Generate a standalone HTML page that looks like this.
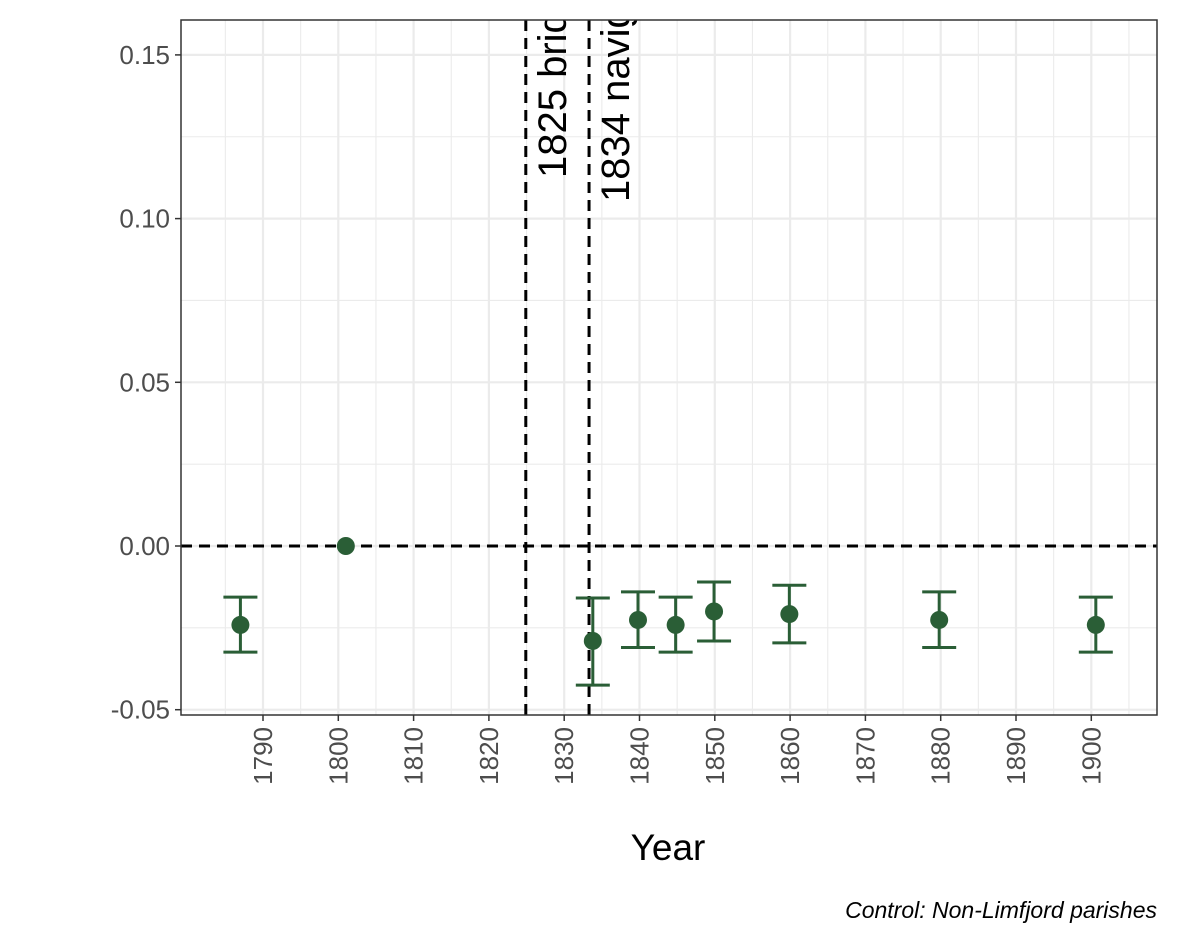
<!DOCTYPE html>
<html><head><meta charset="utf-8"><style>
body{margin:0;background:#fff;}
svg{display:block;font-family:"Liberation Sans",Arial,sans-serif;}
</style></head><body>
<svg id="chart" width="1181" height="944">
<defs><clipPath id="pc"><rect x="181" y="20" width="976" height="695"/></clipPath></defs>
<g id="grid"></g>
<g id="refs" clip-path="url(#pc)"></g>
<g id="marks"></g>
<rect x="181" y="20" width="976" height="695" fill="none" stroke="#333" stroke-width="1.5"/>
<g id="axes"></g>
<text x="668" y="860" font-size="37" text-anchor="middle" fill="#000">Year</text>
<text x="1157" y="918" font-size="23" font-style="italic" text-anchor="end" fill="#000">Control: Non-Limfjord parishes</text>
</svg>
<script>
const years=[1787,1801,1833.8,1839.8,1844.8,1849.9,1859.9,1879.8,1900.6];
const estimates=[-0.0241,0,-0.029,-0.0226,-0.0241,-0.020,-0.0208,-0.0226,-0.0241];
const lower=[-0.0324,0,-0.0425,-0.031,-0.0324,-0.029,-0.0296,-0.031,-0.0324];
const upper=[-0.0156,0,-0.0159,-0.014,-0.0156,-0.011,-0.012,-0.014,-0.0156];
const xTicks=[1790,1800,1810,1820,1830,1840,1850,1860,1870,1880,1890,1900];
const yTicks=[-0.05,0,0.05,0.10,0.15];
const yTickLabels=["-0.05","0.00","0.05","0.10","0.15"];
const events=[1824.9,1833.3];
const eventLabels=["1825 bridge","1834 navigation"];
const NS="http://www.w3.org/2000/svg";
const xs=v=>263+(v-1790)*7.53;
const ys=v=>546-v*3274;
function mk(p,t,a){const e=document.createElementNS(NS,t);for(const k in a)e.setAttribute(k,a[k]);p.appendChild(e);return e;}
const G=document.getElementById('grid'),R=document.getElementById('refs'),M=document.getElementById('marks'),A=document.getElementById('axes');
for(let i=0;i<yTicks.length;i++){
  let l=mk(G,'line',{x1:181,x2:1157,y1:ys(yTicks[i]),y2:ys(yTicks[i]),stroke:'#ebebeb','stroke-width':2.2});
  
  if(i<yTicks.length-1){let m=mk(G,'line',{x1:181,x2:1157,y1:ys((yTicks[i]+yTicks[i+1])/2),y2:ys((yTicks[i]+yTicks[i+1])/2),stroke:'#ebebeb','stroke-width':1.1});
  }
  let tk=mk(A,'line',{x1:175,x2:181,y1:ys(yTicks[i]),y2:ys(yTicks[i]),stroke:'#333','stroke-width':1.5});
  
  let t=mk(A,'text',{x:170,y:ys(yTicks[i])+9,'font-size':26,'text-anchor':'end',fill:'#4d4d4d'});t.textContent=yTickLabels[i];
  
}
for(let i=0;i<xTicks.length;i++){
  let l=mk(G,'line',{x1:xs(xTicks[i]),x2:xs(xTicks[i]),y1:20,y2:715,stroke:'#ebebeb','stroke-width':2.2});
  
  let tk=mk(A,'line',{x1:xs(xTicks[i]),x2:xs(xTicks[i]),y1:715,y2:721,stroke:'#333','stroke-width':1.5});
  
  let x=xs(xTicks[i]),y=727;
  let t=mk(A,'text',{x:x,y:y,'font-size':26,'text-anchor':'end',fill:'#4d4d4d',transform:`rotate(-90 ${x} ${y}) translate(0 9)`});t.textContent=xTicks[i];
  
}
for(let v=1785;v<=1905;v+=10){let m=mk(G,'line',{x1:xs(v),x2:xs(v),y1:20,y2:715,stroke:'#ebebeb','stroke-width':1.1});
  }
let h=mk(R,'line',{x1:181,x2:1157,y1:ys(0),y2:ys(0),stroke:'#000','stroke-width':3,'stroke-dasharray':'11 7'});

for(let i=0;i<events.length;i++){
  let x=xs(events[i]);
  let l=mk(R,'line',{x1:x,x2:x,y1:20,y2:715,stroke:'#000','stroke-width':3,'stroke-dasharray':'11 7'});
  
  let tx=x+40,ty=178+(i?24:0);
  let t=mk(R,'text',{x:tx,y:ty,'font-size':40,fill:'#000',transform:`rotate(-90 ${tx} ${ty})`});t.textContent=eventLabels[i];
  
}
const col='#2a5e36';
for(let i=0;i<years.length;i++){
  const x=xs(years[i]);
  if(upper[i]!==lower[i]){
    const g=mk(M,'g',{stroke:col,'stroke-width':3});
    
    mk(g,'line',{x1:x,x2:x,y1:ys(upper[i]),y2:ys(lower[i])});
    mk(g,'line',{x1:x-17,x2:x+17,y1:ys(upper[i]),y2:ys(upper[i])});
    mk(g,'line',{x1:x-17,x2:x+17,y1:ys(lower[i]),y2:ys(lower[i])});
  }
  const c=mk(M,'circle',{cx:x,cy:ys(estimates[i]),r:9,fill:col});
  
}
</script>
</body></html>
